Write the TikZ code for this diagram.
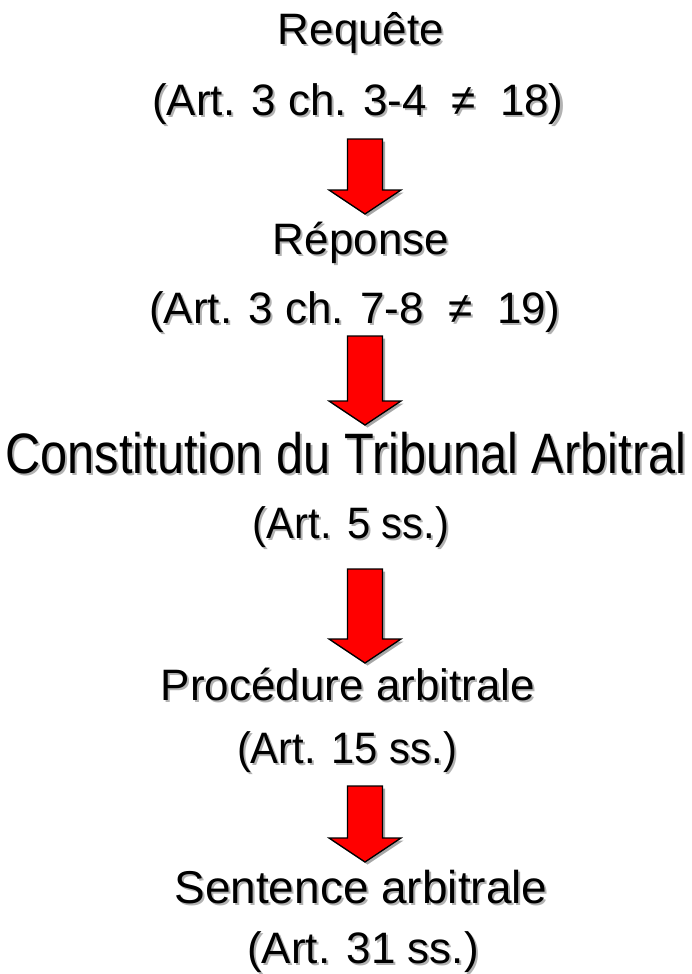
\documentclass[tikz,border=0pt]{standalone}
\usepackage{fontspec}
\setmainfont{Liberation Sans}
\usepackage{graphicx}
\usetikzlibrary{calc}
\tikzset{
  lbl/.style={anchor=base, inner sep=0pt, font=\fontsize{44}{44}\selectfont},
  lblshadow/.style={lbl, text=black!30},
  blockarrow/.style={fill=red, draw=black, line width=1.3pt, line join=miter},
  arrowshadow/.style={fill=black!35, draw=none},
}
\newcommand{\shtxt}[3]{%
  \node[lblshadow] at ($(#2)+(2,2)$) {#3};
  \node[lbl] (#1) at (#2) {#3};
}
\newcommand{\redarrow}[3]{% name, top coordinate, shaft length
  \coordinate (#1) at (#2);
  \fill[arrowshadow] ($(#1)+(-17.5+2.5,2.5)$) -- ++(35,0) -- ++(0,#3) -- ++(18.5,0) -- ++(-36,24) -- ++(-36,-24) -- ++(18.5,0) -- cycle;
  \draw[blockarrow] ($(#1)+(-17.5,0)$) -- ++(35,0) -- ++(0,#3) -- ++(18.5,0) -- ++(-36,24) -- ++(-36,-24) -- ++(18.5,0) -- cycle;
}
\begin{document}
\begin{tikzpicture}[x=1pt,y=-1pt]
\useasboundingbox (0,0) rectangle (692,974);
\fill[white] (0,0) rectangle (692,974);
\shtxt{req}{361,45}{Requête}
\shtxt{reqart}{358,115}{(Art. 3 ch. 3-4 \ ≠ \ 18)}
\redarrow{a1}{365,139}{51}
\shtxt{rep}{361,254}{Réponse}
\shtxt{repart}{355,323}{(Art. 3 ch. 7-8 \ ≠ \ 19)}
\redarrow{a2}{365,336}{65}
\shtxt{con}{346,473}{\fontsize{57}{57}\selectfont\scalebox{0.855}[1]{Constitution du Tribunal Arbitral}}
\shtxt{conart}{351,538}{\scalebox{0.95}[1]{(Art. 5 ss.)}}
\redarrow{a3}{365,569}{70}
\shtxt{pro}{348,700}{Procédure arbitrale}
\shtxt{proart}{347,763}{\scalebox{0.95}[1]{(Art. 15 ss.)}}
\redarrow{a4}{365,786}{52}
\shtxt{sen}{361,903}{\fontsize{46}{46}\selectfont Sentence arbitrale}
\shtxt{senart}{363,963}{(Art. 31 ss.)}
\end{tikzpicture}
\end{document}
